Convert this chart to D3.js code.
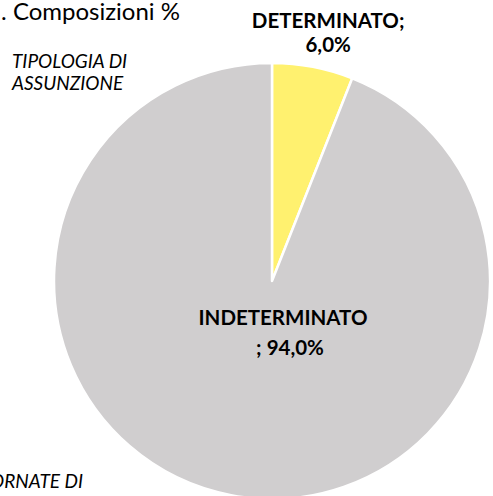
<!DOCTYPE html>
<html>
<head>
<meta charset="utf-8">
<script src="https://cdn.jsdelivr.net/npm/d3@7"></script>
<style>
  body { margin: 0; background: #fff; }
  text { font-family: Lato, "Open Sans", sans-serif; fill: #000; }
</style>
</head>
<body>
<svg id="chart"></svg>
<script>
// Data:
const categories = ["DETERMINATO", "INDETERMINATO"];
const shares = [6.0, 94.0];
const sliceColors = ["#FFF16F", "#D0CECF"];

// Canvas size:
const width = 493, height = 496;
const cx = 272, cy = 281, radius = 218;

const svg = d3.select("#chart")
    .attr("width", width)
    .attr("height", height)
    .attr("viewBox", [0, 0, width, height]);

// Title (cut at the left edge) and side notes
svg.append("text")
    .attr("x", 180).attr("y", 20)
    .attr("text-anchor", "end")
    .style("font-size", "24px")
    .text(". Composizioni %");

const note = svg.append("text")
    .attr("x", 12).attr("y", 68)
    .style("font-size", "19px")
    .style("font-style", "italic");
note.append("tspan").attr("x", 12).text("TIPOLOGIA DI");
note.append("tspan").attr("x", 12).attr("dy", 22).text("ASSUNZIONE");

svg.append("text")
    .attr("x", 83).attr("y", 488)
    .attr("text-anchor", "end")
    .style("font-size", "19px")
    .style("font-style", "italic")
    .text("GIORNATE DI");

// Pie
const data = categories.map(function(c, i) { return {name: c, value: shares[i], color: sliceColors[i]}; });
const pie = d3.pie().sort(null).value(function(d) { return d.value; });
const arc = d3.arc().innerRadius(0).outerRadius(radius);
const labelArc = d3.arc().innerRadius(radius * 1.13).outerRadius(radius * 1.13);

const g = svg.append("g").attr("transform", "translate(" + cx + "," + cy + ")");
const arcs = pie(data);

g.selectAll("path.slice")
    .data(arcs)
  .enter().append("path")
    .attr("class", "slice")
    .attr("d", arc)
    .attr("fill", function(d) { return d.data.color; })
    .attr("stroke", "#fff")
    .attr("stroke-width", 2.5)
    .attr("stroke-linejoin", "round");

const fmt = function(v) { return d3.format(".1f")(v).replace(".", ",") + "%"; };

// Label for the small slice, outside above the pie
const pOut = labelArc.centroid(arcs[0]);
const lblOut = g.append("text")
    .attr("text-anchor", "middle")
    .style("font-size", "20.5px")
    .style("font-weight", "bold");
lblOut.append("tspan").attr("x", pOut[0] + 10).attr("y", pOut[1] - 11).text(arcs[0].data.name + ";");
lblOut.append("tspan").attr("x", pOut[0] + 10).attr("dy", 24).text(fmt(arcs[0].data.value));

// Label for the large slice, inside near the centre
const lblIn = g.append("text")
    .attr("text-anchor", "middle")
    .style("font-size", "20.5px")
    .style("font-weight", "bold");
lblIn.append("tspan").attr("x", 11).attr("y", 44).text(arcs[1].data.name);
lblIn.append("tspan").attr("x", 18).attr("dy", 30).text("; " + fmt(arcs[1].data.value));
</script>
</body>
</html>
